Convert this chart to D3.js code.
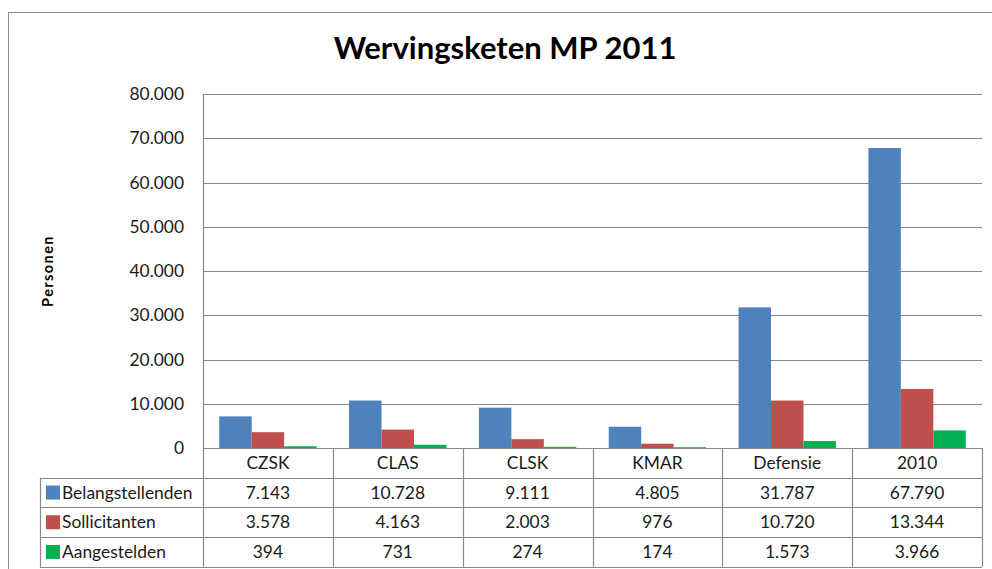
<!DOCTYPE html>
<html>
<head>
<meta charset="utf-8">
<script src="https://cdn.jsdelivr.net/npm/d3@7/dist/d3.min.js"></script>
<style>
  html, body { margin: 0; padding: 0; background: #fff; }
  svg { display: block; font-family: Lato, 'Open Sans', sans-serif; }
</style>
</head>
<body>
<div id="chart"></div>
<script>
// Data
var categories = ['CZSK', 'CLAS', 'CLSK', 'KMAR', 'Defensie', '2010']
var seriesNames = ['Belangstellenden', 'Sollicitanten', 'Aangestelden']
var belangstellenden = [7143, 10728, 9111, 4805, 31787, 67790]
var sollicitanten = [3578, 4163, 2003, 976, 10720, 13344]
var aangestelden = [394, 731, 274, 174, 1573, 3966]
var yTicks = [0, 10000, 20000, 30000, 40000, 50000, 60000, 70000, 80000]
var seriesColors = ['#4F81BD', '#C0504D', '#00B050']

var seriesValues = [belangstellenden, sollicitanten, aangestelden]

var settings = {}
settings.width = 992
settings.height = 569
settings.grid_color = '#888888'
settings.text_color = '#1a1a1a'
settings.font_size = '17.4px'

var plot = {left: 203, right: 982, top: 94, bottom: 448}
var table = {left: 40, rowHeight: 29.7}

var nl = d3.formatLocale({decimal: ',', thousands: '.', grouping: [3], currency: ['€', '']})
var fmt = nl.format(',d')

var svg = d3.select('#chart').append('svg')
    .attr('width', settings.width)
    .attr('height', settings.height)

// outer chart border
svg.append('rect')
    .attr('x', 8.5)
    .attr('y', 12.5)
    .attr('width', 1000)
    .attr('height', 600)
    .attr('fill', 'none')
    .attr('stroke', '#8c8c8c')
    .attr('stroke-width', 1)

// title
svg.append('text')
    .attr('x', 505)
    .attr('y', 59)
    .attr('text-anchor', 'middle')
    .attr('font-weight', 700)
    .attr('font-size', '31px')
    .attr('fill', '#000')
    .text('Wervingsketen MP 2011')

// scales
var y = d3.scaleLinear()
    .domain([0, 80000])
    .range([plot.bottom, plot.top])

var x = d3.scaleBand()
    .domain(categories)
    .range([plot.left, plot.right])

var xs = d3.scaleBand()
    .domain(seriesNames)
    .range([0, x.bandwidth()])
    .paddingInner(0)
    .paddingOuter(0.5)

// gridlines
svg.append('g')
  .selectAll('line')
  .data(yTicks)
  .enter().append('line')
    .attr('x1', plot.left)
    .attr('x2', plot.right)
    .attr('y1', function(d) { return Math.round(y(d)) + 0.5 })
    .attr('y2', function(d) { return Math.round(y(d)) + 0.5 })
    .attr('stroke', settings.grid_color)
    .attr('stroke-width', 1.2)

// y axis
var yAxis = svg.append('g')
    .attr('transform', 'translate(' + (plot.left - 19) + ',0)')
    .call(d3.axisLeft(y).tickValues(yTicks).tickSize(0).tickPadding(0).tickFormat(fmt))
yAxis.select('.domain').remove()
yAxis.selectAll('text')
    .attr('font-family', 'Lato, sans-serif')
    .attr('font-size', settings.font_size)
    .attr('fill', settings.text_color)

// y axis title
svg.append('text')
    .attr('transform', 'translate(53,' + ((plot.top + plot.bottom) / 2) + ') rotate(-90)')
    .attr('text-anchor', 'middle')
    .attr('font-weight', 700)
    .attr('font-size', '14.5px')
    .attr('letter-spacing', '1.4px')
    .attr('fill', '#000')
    .text('Personen')

// bars
var groups = svg.append('g')
  .selectAll('g')
  .data(seriesValues)
  .enter().append('g')
    .attr('fill', function(d, i) { return seriesColors[i] })

groups.each(function(vals, si) {
  d3.select(this).selectAll('rect')
    .data(vals)
    .enter().append('rect')
      .attr('x', function(d, i) { return x(categories[i]) + xs(seriesNames[si]) })
      .attr('width', xs.bandwidth())
      .attr('y', function(d) { return y(d) })
      .attr('height', function(d) { return y(0) - y(d) })
})

// data table
var rowTop = function(r) { return plot.bottom + r * table.rowHeight }
var tableBottom = rowTop(4)
var lines = svg.append('g')
    .attr('stroke', settings.grid_color)
    .attr('stroke-width', 1.2)

// horizontal lines
d3.range(0, 5).forEach(function(r) {
  lines.append('line')
      .attr('x1', r === 0 ? plot.left : table.left)
      .attr('x2', plot.right)
      .attr('y1', Math.round(rowTop(r)) + 0.5)
      .attr('y2', Math.round(rowTop(r)) + 0.5)
})
// vertical lines: value axis runs through the plot, the others only through the table
lines.append('line')
    .attr('x1', table.left + 0.5).attr('x2', table.left + 0.5)
    .attr('y1', rowTop(1)).attr('y2', tableBottom)
categories.concat(['end']).forEach(function(c, i) {
  var xx = i < categories.length ? x(c) : plot.right
  lines.append('line')
      .attr('x1', Math.round(xx) + 0.5).attr('x2', Math.round(xx) + 0.5)
      .attr('y1', i === 0 ? plot.top : plot.bottom).attr('y2', tableBottom)
})

// category labels
svg.append('g')
  .selectAll('text')
  .data(categories)
  .enter().append('text')
    .attr('x', function(d) { return x(d) + x.bandwidth() / 2 })
    .attr('y', rowTop(0) + table.rowHeight / 2 + 6)
    .attr('text-anchor', 'middle')
    .attr('font-size', settings.font_size)
    .attr('fill', settings.text_color)
    .text(function(d) { return d })

// series rows
seriesValues.forEach(function(vals, si) {
  var top = rowTop(si + 1)
  var row = svg.append('g')
  row.append('rect')
      .attr('x', 46)
      .attr('y', top + table.rowHeight / 2 - 7)
      .attr('width', 14)
      .attr('height', 14)
      .attr('fill', seriesColors[si])
  row.append('text')
      .attr('x', 62)
      .attr('y', top + table.rowHeight / 2 + 6)
      .attr('font-size', settings.font_size)
      .attr('fill', settings.text_color)
      .text(seriesNames[si])
  row.selectAll('.val')
    .data(vals)
    .enter().append('text')
      .attr('class', 'val')
      .attr('x', function(d, i) { return x(categories[i]) + x.bandwidth() / 2 })
      .attr('y', top + table.rowHeight / 2 + 6)
      .attr('text-anchor', 'middle')
      .attr('font-size', settings.font_size)
      .attr('fill', settings.text_color)
      .text(function(d) { return fmt(d) })
})
</script>
</body>
</html>
